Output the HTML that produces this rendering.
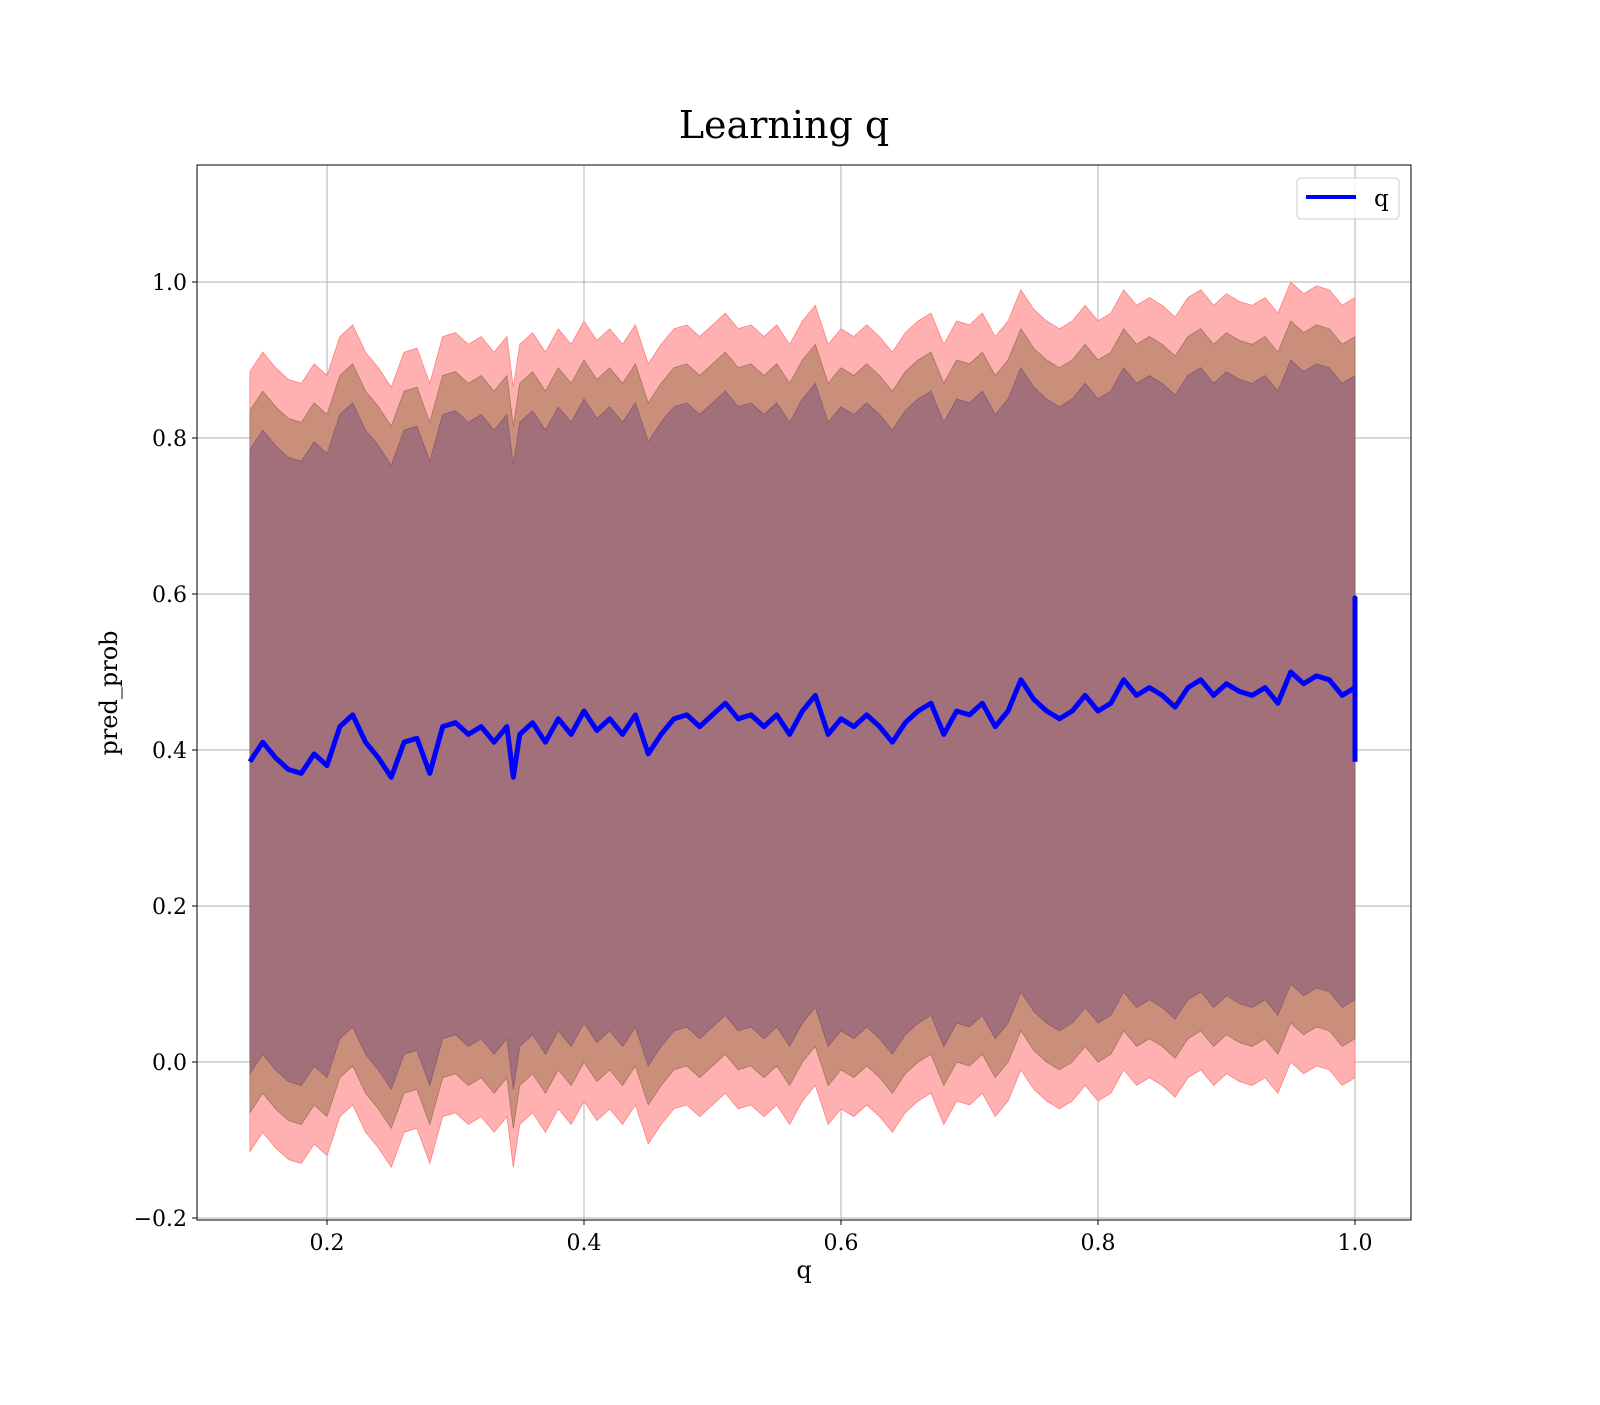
<!DOCTYPE html>
<html><head><meta charset="utf-8"><style>
html,body{margin:0;padding:0;background:#fff;}
svg text{font-family:"DejaVu Serif","Liberation Serif",serif;fill:#000;}
</style></head><body>
<svg id="chart" width="1600" height="1400" xmlns="http://www.w3.org/2000/svg">
<rect width="1600" height="1400" fill="#fff"/>
<text x="784" y="138" font-size="38" text-anchor="middle">Learning q</text>
<g id="grid"></g>
<g id="bands"></g>
<g id="lines"></g>
<rect x="197" y="165" width="1214" height="1055" fill="none" stroke="#000" stroke-width="1"/>
<g id="ticks"></g>
<text x="804" y="1278" font-size="24" text-anchor="middle">q</text>
<text transform="translate(117,693) rotate(-90)" font-size="24" text-anchor="middle">pred_prob</text>
<g>
<rect x="1297" y="178" width="102" height="41" rx="4" fill="#fff" fill-opacity="0.8" stroke="#ccc"/>
<line x1="1306" y1="197" x2="1356" y2="197" stroke="#0000ff" stroke-width="4"/>
<text x="1374" y="206" font-size="23">q</text>
</g>
</svg>
<script>
const qValues=[0.14,0.15,0.16,0.17,0.18,0.19,0.20,0.21,0.22,0.23,0.24,0.25,0.26,0.27,0.28,0.29,0.30,0.31,0.32,0.33,0.34,0.345,0.35,0.36,0.37,0.38,0.39,0.40,0.41,0.42,0.43,0.44,0.45,0.46,0.47,0.48,0.49,0.50,0.51,0.52,0.53,0.54,0.55,0.56,0.57,0.58,0.59,0.60,0.61,0.62,0.63,0.64,0.65,0.66,0.67,0.68,0.69,0.70,0.71,0.72,0.73,0.74,0.75,0.76,0.77,0.78,0.79,0.80,0.81,0.82,0.83,0.84,0.85,0.86,0.87,0.88,0.89,0.90,0.91,0.92,0.93,0.94,0.95,0.96,0.97,0.98,0.99,1.0];
const meanValues=[0.385,0.41,0.39,0.375,0.37,0.395,0.38,0.43,0.445,0.41,0.39,0.365,0.41,0.415,0.37,0.43,0.435,0.42,0.43,0.41,0.43,0.365,0.42,0.435,0.41,0.44,0.42,0.45,0.425,0.44,0.42,0.445,0.395,0.42,0.44,0.445,0.43,0.445,0.46,0.44,0.445,0.43,0.445,0.42,0.45,0.47,0.42,0.44,0.43,0.445,0.43,0.41,0.435,0.45,0.46,0.42,0.45,0.445,0.46,0.43,0.45,0.49,0.465,0.45,0.44,0.45,0.47,0.45,0.46,0.49,0.47,0.48,0.47,0.455,0.48,0.49,0.47,0.485,0.475,0.47,0.48,0.46,0.50,0.485,0.495,0.49,0.47,0.48];
const endSpike=[0.595,0.385];
const bandWidths=[0.5,0.45,0.4];
const bandColors=["#ffb0b0","#c98f7a","#a2707a"];
const bandEdges=["#ff8080","#a5745e","#8a5a70"];
const xTicks=[0.2,0.4,0.6,0.8,1.0];
const yTicks=[-0.2,0.0,0.2,0.4,0.6,0.8,1.0];
const yTickLabels=["\u22120.2","0.0","0.2","0.4","0.6","0.8","1.0"];
const NS="http://www.w3.org/2000/svg";
const X=v=>70+v*1285, Y=v=>1062-v*780;
function mk(tag,attrs,parent){const e=document.createElementNS(NS,tag);for(const k in attrs)e.setAttribute(k,attrs[k]);parent.appendChild(e);return e;}
const grid=document.getElementById('grid'),ticks=document.getElementById('ticks'),bands=document.getElementById('bands'),lines=document.getElementById('lines');
xTicks.forEach(t=>{
 const g=mk('line',{x1:X(t),x2:X(t),y1:165,y2:1220,stroke:'#b0b0b0','stroke-width':1},grid);
 
 
 mk('line',{x1:X(t),x2:X(t),y1:1220,y2:1225,stroke:'#000'},ticks);
 const tx=mk('text',{x:X(t),y:1250,'font-size':22,'text-anchor':'middle'},ticks);tx.textContent=t.toFixed(1);
 
 
});
yTicks.forEach((t,i)=>{
 const g=mk('line',{x1:197,x2:1411,y1:Y(t),y2:Y(t),stroke:'#b0b0b0','stroke-width':1},grid);
 
 
 mk('line',{x1:192,x2:197,y1:Y(t),y2:Y(t),stroke:'#000'},ticks);
 const tx=mk('text',{x:187,y:Y(t)+8,'font-size':22,'text-anchor':'end'},ticks);tx.textContent=yTickLabels[i];
 
 
});
bandWidths.forEach((w,i)=>{
 let up=qValues.map((q,j)=>X(q)+','+Y(meanValues[j]+w));
 let lo=qValues.map((q,j)=>X(q)+','+Y(meanValues[j]-w)).reverse();
 const p=mk('polygon',{points:up.concat(lo).join(' '),fill:bandColors[i],stroke:bandEdges[i],'stroke-width':0.8},bands);
 
 
});
const pts=qValues.map((q,j)=>X(q)+','+Y(meanValues[j]));
endSpike.forEach(v=>pts.push(X(1.0)+','+Y(v)));
const l=mk('polyline',{points:pts.join(' '),fill:'none',stroke:'#0000ff','stroke-width':5,'stroke-linejoin':'round'},lines);


</script>
</body></html>
